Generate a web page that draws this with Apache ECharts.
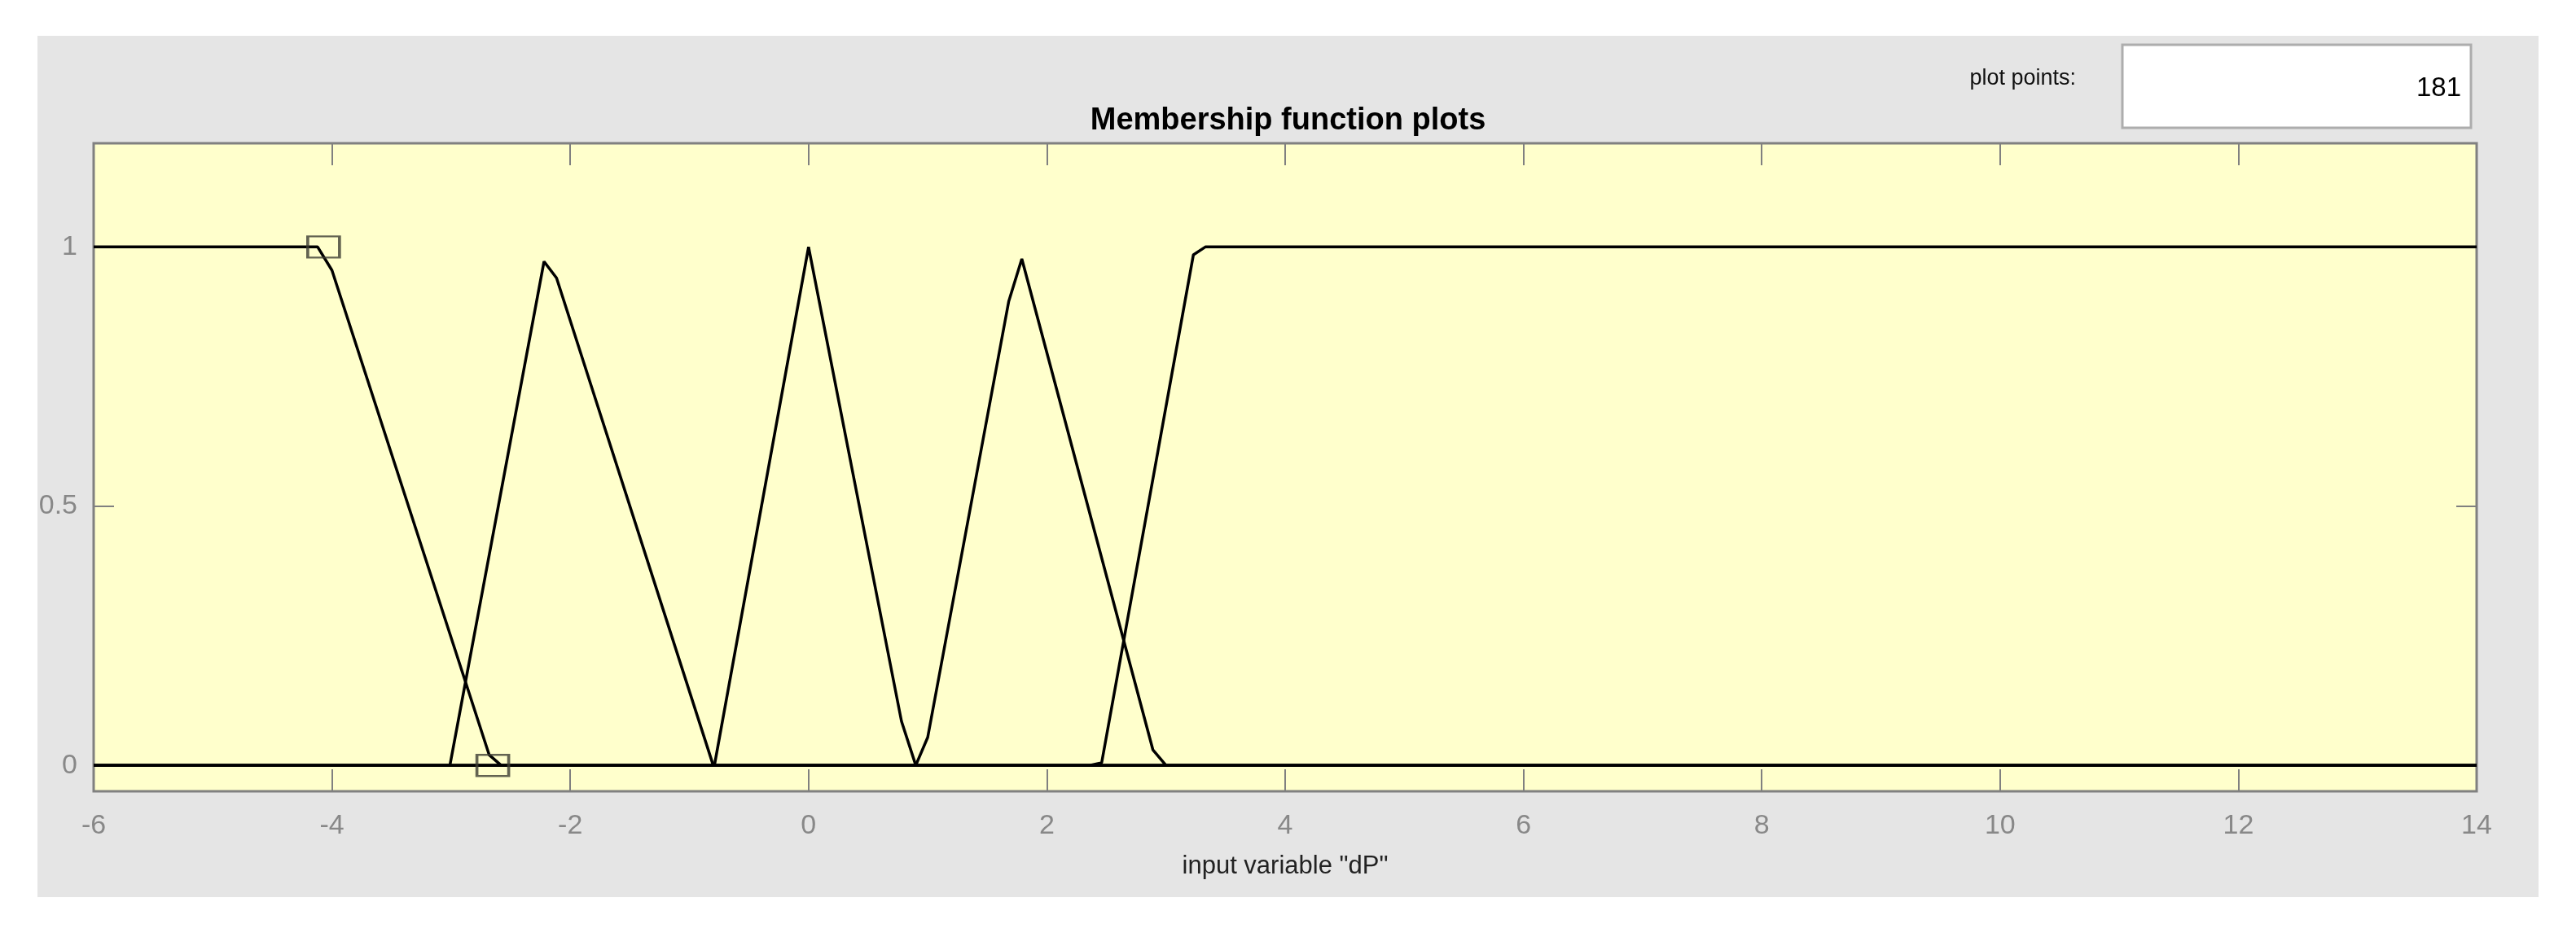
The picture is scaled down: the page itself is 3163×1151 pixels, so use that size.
<!DOCTYPE html>
<html>
<head>
<meta charset="utf-8">
<title>Membership function plots</title>
<script src="https://cdn.jsdelivr.net/npm/echarts@6/dist/echarts.min.js"></script>
<style>
  html, body { margin: 0; padding: 0; background: #fff; }
  #chart { width: 3163px; height: 1151px; }
</style>
</head>
<body>
<div id="chart"></div>
<script>
// membership functions of input variable "dP" (vertices)
const nl = [[-6, 1], [-4.12, 1], [-4.0, 0.955], [-2.68, 0.02], [-2.58, 0], [14, 0]]
const ns = [[-6, 0], [-3.01, 0], [-2.22, 0.972], [-2.115, 0.94], [-0.8, 0], [14, 0]]
const ze = [[-6, 0], [-0.89, 0], [-0.79, 0], [0, 1], [0.78, 0.085], [0.9, 0], [14, 0]]
const ps = [[-6, 0], [0.9, 0], [1.0, 0.054], [1.68, 0.895], [1.79, 0.977], [2.89, 0.03], [3.0, 0], [14, 0]]
const pl = [[-6, 0], [2.36, 0], [2.46, 0.005], [3.23, 0.985], [3.33, 1], [14, 1]]

const mfNames = ['NL', 'NS', 'ZE', 'PS', 'PL']
const labelX = [-5.05, -2.23, 0, 1.78, 8.67]
const labelY = 1.095
// handles of the selected MF (NL)
const handles = [[-4.07, 1], [-2.65, 0]]

const yTicks = [0, 0.5, 1]
const xMin = -6
const xMax = 14
const xStep = 2
const plotPoints = '181'

const font = 'Liberation Sans, Arial, Helvetica, sans-serif'
const chart = echarts.init(document.getElementById('chart'))

const mfSeries = [nl, ns, ze, ps, pl].map((pts, i) => ({
  name: mfNames[i],
  type: 'line',
  data: pts,
  showSymbol: false,
  lineStyle: { color: '#000', width: 3.5 },
  z: 3
}))

const tickStyle = { color: '#808080', width: 2 }

chart.setOption({
  animation: false,
  backgroundColor: '#fff',
  title: {
    text: 'Membership function plots',
    left: 'center',
    top: 130,
    padding: 0,
    textStyle: { fontFamily: font, fontSize: 38, fontWeight: 'bold', color: '#000' }
  },
  graphic: [
    {
      type: 'rect',
      z: -10,
      shape: { x: 46, y: 44, width: 3071, height: 1058 },
      style: { fill: '#e5e5e5' }
    },
    {
      type: 'rect',
      shape: { x: 2606, y: 55, width: 428, height: 102 },
      style: { fill: '#fff', stroke: '#adadad', lineWidth: 3 }
    },
    {
      type: 'text',
      x: 2549,
      y: 97,
      style: {
        text: 'plot points:', fontFamily: font, fontSize: 27, fill: '#111',
        align: 'right', verticalAlign: 'middle'
      }
    },
    {
      type: 'text',
      x: 3022,
      y: 109,
      style: {
        text: plotPoints, fontFamily: font, fontSize: 33, fill: '#000',
        align: 'right', verticalAlign: 'middle'
      }
    }
  ],
  grid: {
    left: 115,
    right: 122,
    top: 176,
    bottom: 179,
    show: true,
    backgroundColor: '#ffffcc',
    borderColor: '#808080',
    borderWidth: 3
  },
  xAxis: [
    {
      type: 'value',
      min: xMin,
      max: xMax,
      interval: xStep,
      position: 'bottom',
      axisLine: { show: false, onZero: false },
      axisTick: { show: true, inside: true, length: 27, lineStyle: tickStyle },
      axisLabel: { color: '#888', fontFamily: font, fontSize: 34, margin: 26 },
      splitLine: { show: false },
      name: 'input variable "dP"',
      nameLocation: 'middle',
      nameGap: 77,
      nameTextStyle: { color: '#222', fontFamily: font, fontSize: 31 }
    },
    {
      type: 'value',
      min: xMin,
      max: xMax,
      interval: xStep,
      position: 'top',
      axisLine: { show: false, onZero: false },
      axisTick: { show: true, inside: true, length: 27, lineStyle: tickStyle },
      axisLabel: { show: false },
      splitLine: { show: false }
    }
  ],
  yAxis: [
    {
      type: 'value',
      min: -0.05,
      max: 1.2,
      position: 'left',
      axisLine: { show: false, onZero: false },
      axisTick: { show: true, inside: true, length: 25, lineStyle: tickStyle, customValues: yTicks },
      axisLabel: { color: '#888', fontFamily: font, fontSize: 34, margin: 20, customValues: yTicks },
      splitLine: { show: false }
    },
    {
      type: 'value',
      min: -0.05,
      max: 1.2,
      position: 'right',
      axisLine: { show: false, onZero: false },
      axisTick: { show: true, inside: true, length: 25, lineStyle: tickStyle, customValues: yTicks },
      axisLabel: { show: false },
      splitLine: { show: false }
    }
  ],
  series: mfSeries.concat([
    {
      type: 'scatter',
      data: handles,
      symbol: 'rect',
      symbolSize: [39, 26],
      itemStyle: { color: 'rgba(0,0,0,0)', borderColor: '#3c3c32', borderWidth: 3 },
      z: 4
    },
    {
      type: 'scatter',
      data: mfNames.map((n, i) => [labelX[i], labelY, n]),
      symbolSize: 1,
      itemStyle: { opacity: 0 },
      label: {
        show: true,
        position: 'inside',
        formatter: p => p.value[2],
        fontFamily: font,
        fontSize: 32,
        color: '#000'
      },
      z: 5
    }
  ])
})
</script>
</body>
</html>
